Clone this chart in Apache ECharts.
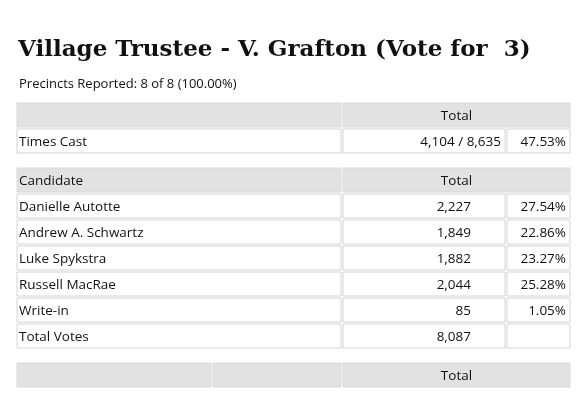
<!DOCTYPE html>
<html><head><meta charset="utf-8">
<script src="https://cdn.jsdelivr.net/npm/echarts@6/dist/echarts.min.js"></script>
<style>html,body{margin:0;background:#fff}#main{width:584px;height:400px}</style>
</head><body><div id="main"></div>
<script>
var titleText = 'Village Trustee - V. Grafton (Vote for  3)';
var subText = 'Precincts Reported: 8 of 8 (100.00%)';
var candidates = ['Danielle Autotte', 'Andrew A. Schwartz', 'Luke Spykstra', 'Russell MacRae', 'Write-in'];
var votes = [2227, 1849, 1882, 2044, 85];
var pcts = ['27.54%', '22.86%', '23.27%', '25.28%', '1.05%'];
var timesCast = '4,104 / 8,635';
var turnout = '47.53%';
var totalVotes = 8087;

var chart = echarts.init(document.getElementById('main'));
var els = [];
var FONT = '"Open Sans", "Noto Sans", sans-serif';
var X0 = 16, X1 = 342, X2 = 506, X3 = 571, RH = 26;

function cell(x, y, w, h, fill, txt, align, pad) {
    els.push({type: 'rect', shape: {x: x + 1, y: y + 1, width: w - 2, height: h - 2},
        style: {fill: fill, stroke: fill == '#fff' ? '#d4d4d4' : '#d9d9d9', lineWidth: 1}});
    if (txt !== undefined && txt !== '') {
        var tx = align == 'right' ? x + w - (pad || 5) : align == 'center' ? x + w / 2 : x + 3;
        els.push({type: 'text', x: tx, y: y + h / 2 + 1,
            style: {text: txt, fill: '#111', font: '13.5px ' + FONT, textAlign: align || 'left', textVerticalAlign: 'middle'}});
    }
}
function fmt(n) { return n.toLocaleString('en-US'); }

els.push({type: 'text', x: 18, y: 50, style: {text: titleText, fill: '#111',
    font: 'bold 23px "DejaVu Serif", "Liberation Serif", serif', textVerticalAlign: 'middle'}});
els.push({type: 'text', x: 19, y: 84, style: {text: subText, fill: '#111',
    font: '13px ' + FONT, textVerticalAlign: 'middle'}});

// turnout table
var y = 102;
cell(X0, y, X1 - X0, RH, '#e2e2e2');
cell(X1, y, X3 - X1, RH, '#e2e2e2', 'Total', 'center');
y += RH;
cell(X0, y, X1 - X0, RH, '#fff', 'Times Cast');
cell(X1, y, X2 - X1, RH, '#fff', timesCast, 'right');
cell(X2, y, X3 - X2, RH, '#fff', turnout, 'right');

// results table
y = 167;
cell(X0, y, X1 - X0, RH, '#e2e2e2', 'Candidate');
cell(X1, y, X3 - X1, RH, '#e2e2e2', 'Total', 'center');
y += RH;
candidates.forEach(function (c, i) {
    cell(X0, y, X1 - X0, RH, '#fff', c);
    cell(X1, y, X2 - X1, RH, '#fff', fmt(votes[i]), 'right', 35);
    cell(X2, y, X3 - X2, RH, '#fff', pcts[i], 'right');
    y += RH;
});
cell(X0, y, X1 - X0, RH, '#fff', 'Total Votes');
cell(X1, y, X2 - X1, RH, '#fff', fmt(totalVotes), 'right', 35);
cell(X2, y, X3 - X2, RH, '#fff');

// bottom header
y = 362;
cell(X0, y, 212 - X0, RH, '#e2e2e2');
cell(212, y, X1 - 212, RH, '#e2e2e2');
cell(X1, y, X3 - X1, RH, '#e2e2e2', 'Total', 'center');

chart.setOption({animation: false, graphic: {elements: els}});
</script></body></html>
